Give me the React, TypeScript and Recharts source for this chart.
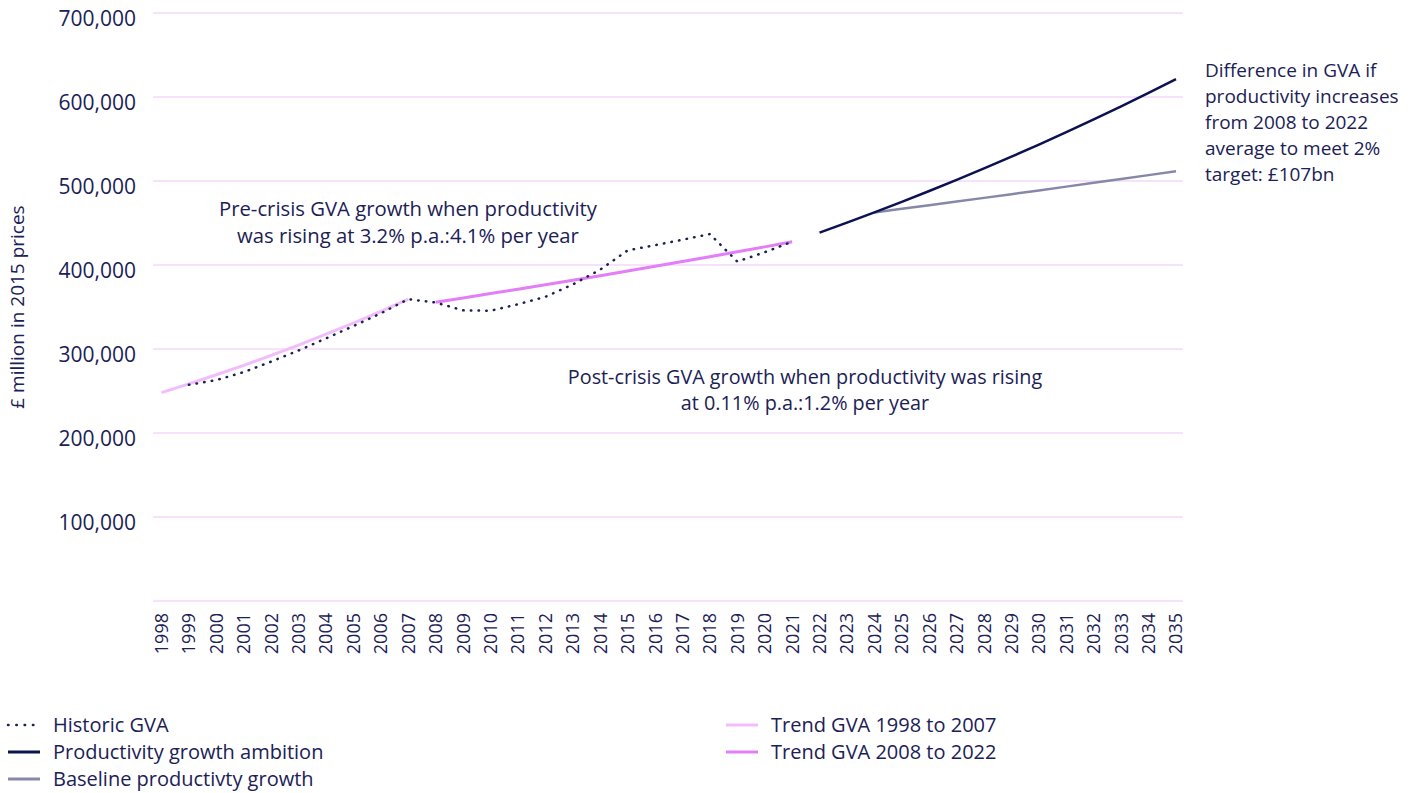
import { LineChart, Line, XAxis, YAxis, CartesianGrid } from 'recharts';

const FONT = "'Open Sans', sans-serif";
const INK = '#1b2156';

const YEARS = [
  '1998', '1999', '2000', '2001', '2002', '2003', '2004', '2005', '2006', '2007',
  '2008', '2009', '2010', '2011', '2012', '2013', '2014', '2015', '2016', '2017',
  '2018', '2019', '2020', '2021', '2022', '2023', '2024', '2025', '2026', '2027',
  '2028', '2029', '2030', '2031', '2032', '2033', '2034', '2035',
];

const Y_TICKS = [0, 100000, 200000, 300000, 400000, 500000, 600000, 700000];

// £ million, 2015 prices
const HISTORIC_FROM = '1999';
const HISTORIC = [
  257400, 263000, 272500, 285000, 298200, 312600, 327300, 342500, 359300,
  355300, 346000, 345500, 353300, 362100, 376800, 394500, 417300, 423600,
  430100, 436800, 404100, 415200, 427700,
];

const TREND_PRE_FROM = '1998';
const TREND_PRE = [248000, 258400, 269300, 280600, 292400, 304700, 317600, 330900, 344900, 359400];

const TREND_POST_FROM = '2008';
const TREND_POST = [
  355700, 360800, 366000, 371200, 376500, 381900, 387300, 392800, 398400,
  404100, 409900, 415700, 421600, 427600,
];

const AMBITION_FROM = '2022';
const AMBITION = [
  438500, 450400, 462600, 475200, 488100, 501400, 515000, 529000, 543400,
  558200, 573400, 588900, 604900, 621400,
];

const BASELINE_FROM = '2024';
const BASELINE = [
  462600, 466900, 471200, 475600, 479900, 484300, 488800, 493300, 497800,
  502400, 507000, 511600,
];

const pick = (values: number[], from: string, year: string) => {
  const i = YEARS.indexOf(year) - YEARS.indexOf(from);
  return i >= 0 && i < values.length ? values[i] : null;
};

const data = YEARS.map(year => ({
  year,
  historic: pick(HISTORIC, HISTORIC_FROM, year),
  trendPre: pick(TREND_PRE, TREND_PRE_FROM, year),
  trendPost: pick(TREND_POST, TREND_POST_FROM, year),
  ambition: pick(AMBITION, AMBITION_FROM, year),
  baseline: pick(BASELINE, BASELINE_FROM, year),
}));

const XTick = ({ x, y, payload }: any) => (
  <g transform={`translate(${x},${y})`}>
    <text transform="rotate(-90)" textAnchor="end" dy="0.36em" fill={INK} fontSize={18} fontFamily={FONT}>
      {payload.value}
    </text>
  </g>
);

const YTick = ({ x, y, payload }: any) =>
  payload.value === 0 ? null : (
    <text x={x} y={y + 5} dy="0.36em" textAnchor="end" fill={INK} fontSize={21} fontFamily={FONT}>
      {payload.value.toLocaleString('en-GB')}
    </text>
  );

const legendLeft = [
  { label: 'Historic GVA', color: INK, dash: '0.5 7.8', width: 2.5 },
  { label: 'Productivity growth ambition', color: '#0c1250', dash: undefined, width: 3 },
  { label: 'Baseline productivty growth', color: '#8688a8', dash: undefined, width: 3 },
];
const legendRight = [
  { label: 'Trend GVA 1998 to 2007', color: '#f3bdfb', dash: undefined, width: 3 },
  { label: 'Trend GVA 2008 to 2022', color: '#e27ef6', dash: undefined, width: 3 },
];

const LegendRow = ({ item, left, top }: any) => (
  <div style={{ position: 'absolute', left, top, height: 27, display: 'flex', alignItems: 'center' }}>
    <svg width={36} height={10} style={{ display: 'block' }}>
      <line x1={2} y1={5} x2={34} y2={5} stroke={item.color} strokeWidth={item.width}
        strokeDasharray={item.dash} strokeLinecap={item.dash ? 'round' : 'butt'} />
    </svg>
    <span style={{ marginLeft: 11, fontSize: 20, color: INK, whiteSpace: 'nowrap' }}>{item.label}</span>
  </div>
);

export default function App() {
  return (
    <div style={{ position: 'absolute', left: 0, top: 0, width: 1416, height: 793, background: '#fff', fontFamily: FONT }}>
      <LineChart width={1416} height={661} data={data} margin={{ top: 13, right: 233, left: 0, bottom: 0 }}>
        <CartesianGrid vertical={false} stroke="#f6e2fb" strokeWidth={2} />
        <XAxis dataKey="year" interval={0} height={60} axisLine={false} tickLine={false}
          tickSize={0} tickMargin={12} padding={{ left: 8.5, right: 7 }} tick={<XTick />} />
        <YAxis width={153} domain={[0, 700000]} ticks={Y_TICKS} axisLine={false} tickLine={false}
          tickSize={0} tickMargin={17} tick={<YTick />} />
        <Line dataKey="trendPre" stroke="#f3bdfb" strokeWidth={3} dot={false} isAnimationActive={false} />
        <Line dataKey="trendPost" stroke="#e27ef6" strokeWidth={3} dot={false} isAnimationActive={false} />
        <Line dataKey="historic" stroke={INK} strokeWidth={2.5} strokeDasharray="0.5 7.2" strokeLinecap="round" dot={false} isAnimationActive={false} />
        <Line dataKey="baseline" stroke="#8688a8" strokeWidth={2.5} dot={false} isAnimationActive={false} />
        <Line dataKey="ambition" stroke="#0c1250" strokeWidth={2.5} dot={false} isAnimationActive={false} />
      </LineChart>

      <div style={{ position: 'absolute', left: -113, top: 294, width: 260, textAlign: 'center', transform: 'rotate(-90deg)', fontSize: 19, color: INK, whiteSpace: 'nowrap' }}>
        £ million in 2015 prices
      </div>

      <div style={{ position: 'absolute', left: 183, top: 195, width: 450, textAlign: 'center', fontSize: 20.3, lineHeight: '27px', color: INK }}>
        Pre-crisis GVA growth when productivity<br />was rising at 3.2% p.a.:4.1% per year
      </div>
      <div style={{ position: 'absolute', left: 530, top: 364, width: 550, textAlign: 'center', fontSize: 19.8, lineHeight: '26px', color: INK }}>
        Post-crisis GVA growth when productivity was rising<br />at 0.11% p.a.:1.2% per year
      </div>
      <div style={{ position: 'absolute', left: 1205, top: 57, width: 211, fontSize: 19, lineHeight: '26px', color: INK, whiteSpace: 'nowrap' }}>
        Difference in GVA if<br />productivity increases<br />from 2008 to 2022<br />average to meet 2%<br />target: £107bn
      </div>

      {legendLeft.map((item, i) => (
        <LegendRow key={item.label} item={item} left={6} top={711 + i * 27} />
      ))}
      {legendRight.map((item, i) => (
        <LegendRow key={item.label} item={item} left={724} top={711 + i * 27} />
      ))}
    </div>
  );
}
